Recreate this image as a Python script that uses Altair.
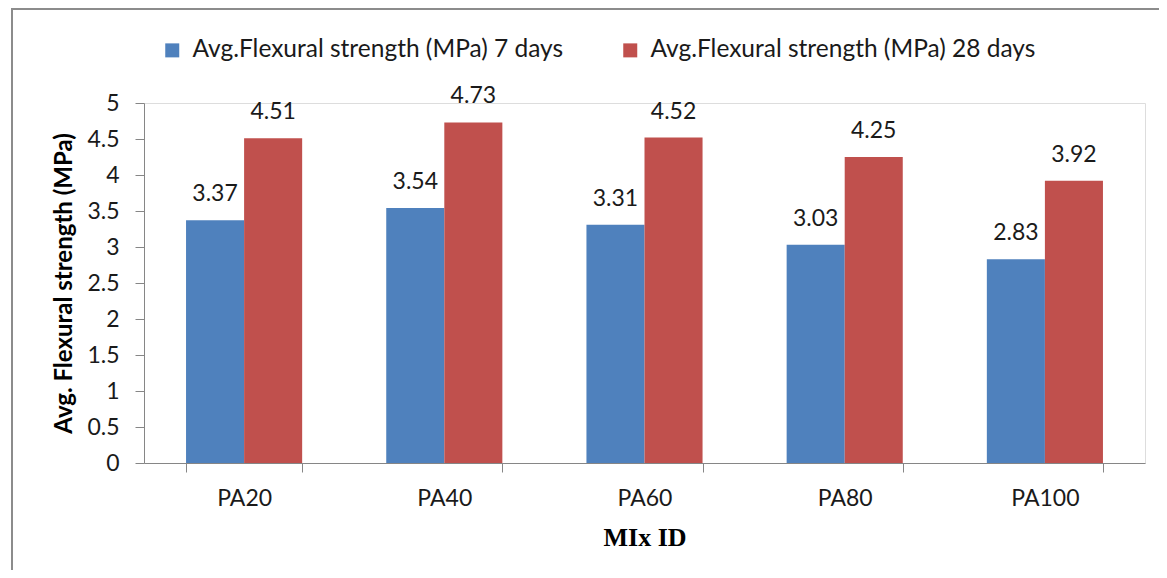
import altair as alt
import pandas as pd

mixes = ["PA20", "PA40", "PA60", "PA80", "PA100"]
days7 = [3.37, 3.54, 3.31, 3.03, 2.83]
days28 = [4.51, 4.73, 4.52, 4.25, 3.92]
series = ["Avg.Flexural strength (MPa) 7 days", "Avg.Flexural strength (MPa) 28 days"]
colors = ["#4F81BD", "#C0504D"]
yticks = [0, 0.5, 1, 1.5, 2, 2.5, 3, 3.5, 4, 4.5, 5]

rows = []
for m, a, b in zip(mixes, days7, days28):
    rows.append({"mix": m, "series": series[0], "value": a, "label": f"{a:.2f}"})
    rows.append({"mix": m, "series": series[1], "value": b, "label": f"{b:.2f}"})
df = pd.DataFrame(rows)

W, H = 1001, 360
PL, PT, PR, PB = 136, 95, 14, 107
FONT = "Lato"
GRAY = "#868686"
TXT = "#1a1a1a"

x = alt.X(
    "mix:N", sort=mixes,
    scale=alt.Scale(paddingInner=0.42, paddingOuter=0.21),
    axis=alt.Axis(
        title="MIx ID", labelAngle=0, tickBand="extent", tickSize=9,
        tickColor=GRAY, domainColor=GRAY, labelFont=FONT, labelFontSize=23,
        labelColor=TXT, labelPadding=15, titleFont="Liberation Serif",
        titleFontSize=26, titleFontWeight="bold", titleColor="#000", titlePadding=14,
    ),
)
y = alt.Y(
    "value:Q",
    scale=alt.Scale(domain=[0, 5]),
    axis=alt.Axis(
        title="Avg. Flexural strength (MPa)", values=yticks, format="~g",
        grid=False, tickSize=9, tickColor=GRAY, domainColor=GRAY,
        labelFont=FONT, labelFontSize=23, labelColor=TXT, labelPadding=16,
        titleFont=FONT, titleFontSize=24, titleFontWeight="bold", titleColor="#000",
        titlePadding=10,
    ),
)
xoff = alt.XOffset("series:N", sort=series)
color = alt.Color(
    "series:N", sort=series,
    scale=alt.Scale(domain=series, range=colors),
    legend=alt.Legend(
        title=None, orient="none", legendX=16, legendY=-65, direction="horizontal",
        symbolType="square", symbolSize=196, symbolStrokeWidth=0,
        labelFont=FONT, labelFontSize=24.5, labelColor=TXT, labelOffset=8,
        columnPadding=54, labelLimit=600,
    ),
)

bars = alt.Chart(df).mark_bar().encode(x=x, y=y, xOffset=xoff, color=color)
texts = alt.Chart(df).mark_text(
    baseline="alphabetic", dy=-19, fontSize=23, font=FONT, color=TXT
).encode(x=x, y=y, xOffset=xoff, text="label:N")

one = pd.DataFrame({"a": [0]})
frame_left = alt.Chart(one).mark_rule(color="#8c8c8c", strokeWidth=2).encode(
    x=alt.value(-132), y=alt.value(-95), y2=alt.value(H + PB + 10)
)
frame_top = alt.Chart(one).mark_rule(color="#8c8c8c", strokeWidth=2).encode(
    x=alt.value(-133), x2=alt.value(W + PR + 10), y=alt.value(-94)
)

chart = alt.layer(bars, texts, frame_left, frame_top).properties(
    width=W, height=H,
    padding={"left": PL, "top": PT, "right": PR, "bottom": PB},
    autosize=alt.AutoSizeParams(type="none"),
).configure_view(stroke=None).configure(background="white")

chart.save("out.html", embed_options={"renderer": "svg", "actions": False})
